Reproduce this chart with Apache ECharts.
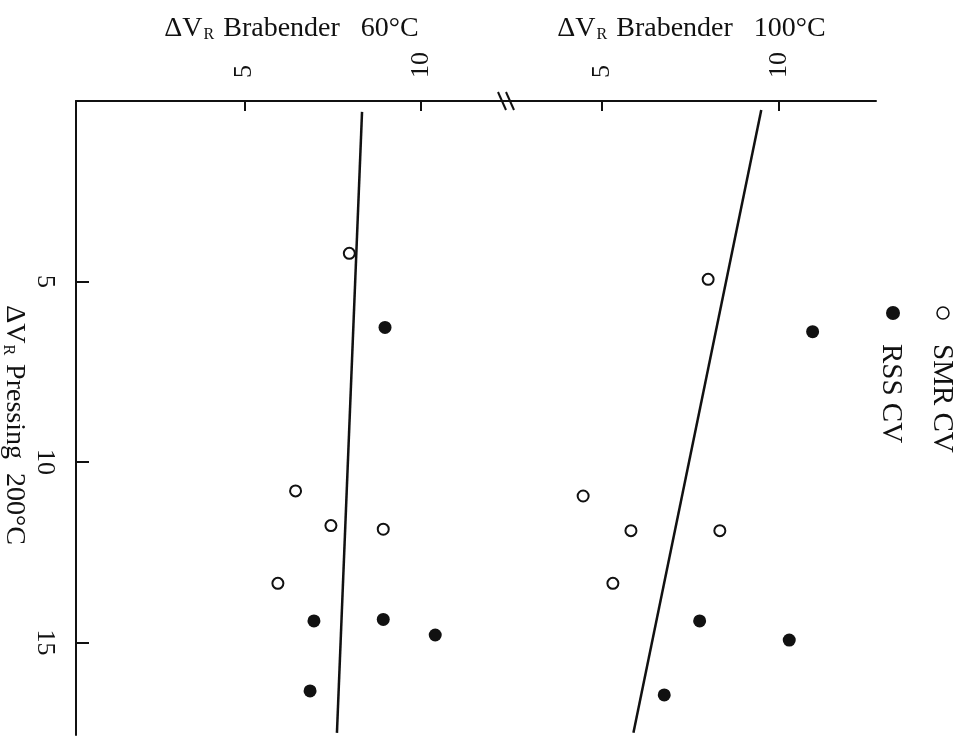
<!DOCTYPE html>
<html>
<head>
<meta charset="utf-8">
<script src="https://cdn.jsdelivr.net/npm/echarts@6/dist/echarts.min.js"></script>
<style>
  html, body { margin: 0; padding: 0; background: #fff; }
  #chart { width: 962px; height: 745px; }
</style>
</head>
<body>
<div id="chart"></div>
<script>
// Pressing 200°C (vertical) against Brabender 60°C and 100°C (horizontal, broken axis)
const pressingTicks = [5, 10, 15];
const brabenderTicks = [5, 10];

// Brabender 60°C panel
const p60Open = [4.22, 10.80, 11.76, 11.86, 13.36];
const b60Open = [7.97, 6.45, 7.45, 8.93, 5.95];
const p60Filled = [6.27, 14.40, 14.36, 14.79, 16.34];
const b60Filled = [8.98, 6.97, 8.93, 10.40, 6.86];
const p60Fit = [0.30, 17.5];
const b60Fit = [8.33, 7.62];

// Brabender 100°C panel
const p100Open = [4.94, 10.94, 11.90, 11.90, 13.36];
const b100Open = [8.00, 4.47, 5.82, 8.33, 5.31];
const p100Filled = [6.39, 14.40, 14.93, 16.45];
const b100Filled = [10.95, 7.76, 10.29, 6.76];
const p100Fit = [0.25, 17.5];
const b100Fit = [9.50, 5.89];

const legendNames = ['SMR CV', 'RSS CV'];

const INK = '#111';
const FONT = '"Liberation Serif", "DejaVu Serif", serif';

const pairs = (xs, ys) => xs.map((x, i) => [x, ys[i]]);

// ΔV with a subscript R, followed by the rest of the axis title
const rich = {
  a: { fontFamily: FONT, fontSize: 28, color: INK, lineHeight: 32, verticalAlign: 'bottom' },
  s: { fontFamily: FONT, fontSize: 16, color: INK, lineHeight: 16, verticalAlign: 'bottom', padding: [0, 9, 0, 1] }
};

const xAxisBase = (gridIndex, min, max, name) => ({
  type: 'value', gridIndex, position: 'top', min, max,
  name, nameLocation: 'middle', nameGap: 58,
  nameTextStyle: { rich },
  axisLine: { show: true, onZero: false, lineStyle: { color: INK, width: 2 } },
  axisTick: { show: true, inside: true, length: 10, customValues: brabenderTicks, lineStyle: { color: INK, width: 2 } },
  axisLabel: { show: true, customValues: brabenderTicks, rotate: -90, margin: 23,
    fontFamily: FONT, fontSize: 26, color: INK },
  splitLine: { show: false }
});

const openStyle = { color: '#fff', borderColor: INK, borderWidth: 2, opacity: 1 };
const filledStyle = { color: INK, borderColor: INK, borderWidth: 0, opacity: 1 };

const chart = echarts.init(document.getElementById('chart'), null, { renderer: 'canvas' });

const option = {
  backgroundColor: '#fff',
  animation: false,
  grid: [
    { left: 76, top: 101, width: 431, height: 634, containLabel: false, outerBoundsMode: 'none' },
    { left: 507, top: 101, width: 369, height: 634, containLabel: false, outerBoundsMode: 'none' }
  ],
  xAxis: [
    xAxisBase(0, 0.24, 12.43, '{a|ΔV}{s|R}{a|Brabender   60°C}'),
    xAxisBase(1, 2.32, 12.74, '{a|ΔV}{s|R}{a|Brabender   100°C}')
  ],
  yAxis: [
    {
      type: 'value', gridIndex: 0, inverse: true, min: 0, max: 17.56,
      name: '{a|ΔV}{s|R}{a|Pressing  200°C}', nameLocation: 'middle', nameGap: 44, nameRotate: -90,
      nameTextStyle: { rich, padding: [0, 0, 0, 14] },
      axisLine: { show: true, onZero: false, lineStyle: { color: INK, width: 2 } },
      axisTick: { show: true, inside: true, length: 13, customValues: pressingTicks, lineStyle: { color: INK, width: 2 } },
      axisLabel: { show: true, customValues: pressingTicks, rotate: -90, margin: 18,
        fontFamily: FONT, fontSize: 26, color: INK },
      splitLine: { show: false }
    },
    {
      type: 'value', gridIndex: 1, inverse: true, min: 0, max: 17.56,
      axisLine: { show: false }, axisTick: { show: false }, axisLabel: { show: false },
      splitLine: { show: false }
    }
  ],
  series: [
    { type: 'line', xAxisIndex: 0, yAxisIndex: 0, data: pairs(b60Fit, p60Fit), showSymbol: false,
      lineStyle: { color: INK, width: 2.5 }, z: 2 },
    { type: 'line', xAxisIndex: 1, yAxisIndex: 1, data: pairs(b100Fit, p100Fit), showSymbol: false,
      lineStyle: { color: INK, width: 2.5 }, z: 2 },
    { name: legendNames[0], type: 'scatter', xAxisIndex: 0, yAxisIndex: 0, data: pairs(b60Open, p60Open),
      symbol: 'circle', symbolSize: 11, itemStyle: openStyle, z: 3 },
    { name: legendNames[1], type: 'scatter', xAxisIndex: 0, yAxisIndex: 0, data: pairs(b60Filled, p60Filled),
      symbol: 'circle', symbolSize: 13, itemStyle: filledStyle, z: 3 },
    { name: legendNames[0], type: 'scatter', xAxisIndex: 1, yAxisIndex: 1, data: pairs(b100Open, p100Open),
      symbol: 'circle', symbolSize: 11, itemStyle: openStyle, z: 3 },
    { name: legendNames[1], type: 'scatter', xAxisIndex: 1, yAxisIndex: 1, data: pairs(b100Filled, p100Filled),
      symbol: 'circle', symbolSize: 13, itemStyle: filledStyle, z: 3 }
  ]
};

chart.setOption(option);

// Axis break mark where the two horizontal scales meet, plus the rotated key
const bx = chart.convertToPixel({ xAxisIndex: 0 }, option.xAxis[0].max);
const by = chart.convertToPixel({ yAxisIndex: 0 }, 0);
const slash = (dx) => ({
  type: 'line', shape: { x1: bx + dx - 5, y1: by - 9, x2: bx + dx + 3, y2: by + 9 },
  style: { stroke: INK, lineWidth: 2 }
});

chart.setOption({
  graphic: [
    slash(-4), slash(4),
    { type: 'circle', shape: { cx: 943, cy: 313, r: 6 }, style: { fill: '#fff', stroke: INK, lineWidth: 1.5 } },
    { type: 'text', x: 942, y: 344, rotation: -Math.PI / 2,
      style: { text: legendNames[0], font: '29px ' + FONT, fill: INK, textAlign: 'left', textVerticalAlign: 'middle' } },
    { type: 'circle', shape: { cx: 893, cy: 313, r: 7 }, style: { fill: INK, stroke: INK, lineWidth: 0 } },
    { type: 'text', x: 891, y: 344, rotation: -Math.PI / 2,
      style: { text: legendNames[1], font: '29px ' + FONT, fill: INK, textAlign: 'left', textVerticalAlign: 'middle' } }
  ]
});
</script>
</body>
</html>
